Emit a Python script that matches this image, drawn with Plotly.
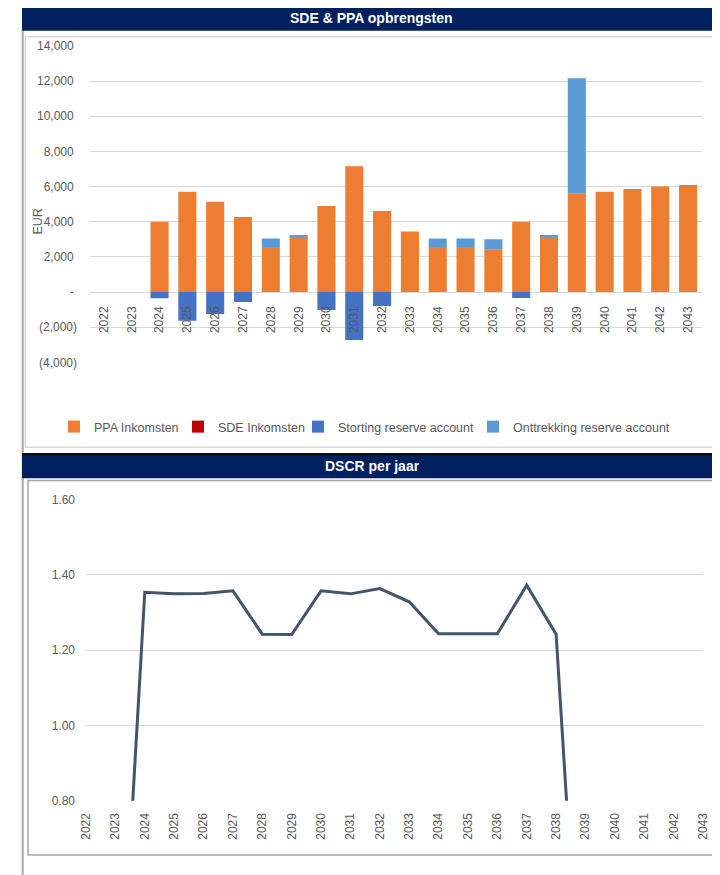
import plotly.graph_objects as go

# ---------------- data ----------------
years = ["2022", "2023", "2024", "2025", "2026", "2027", "2028", "2029", "2030", "2031", "2032",
         "2033", "2034", "2035", "2036", "2037", "2038", "2039", "2040", "2041", "2042", "2043"]
ppa_inkomsten = [0, 0, 4000, 5710, 5140, 4270, 2560, 3150, 4895, 7150, 4610,
                 3450, 2560, 2560, 2410, 4000, 3150, 5620, 5710, 5860, 6000, 6090]
sde_inkomsten = [0, 0, 0, 0, 0, 0, 0, 0, 0, 0, 0,
                 0, 0, 0, 0, 0, 0, 0, 0, 0, 0, 0]
storting_reserve = [0, 0, -360, -1630, -1250, -570, 0, 0, -1020, -2730, -800,
                    0, 0, 0, 0, -340, 0, 0, 0, 0, 0, 0]
onttrekking_reserve = [0, 0, 0, 0, 0, 0, 490, 80, 0, 0, 0,
                       0, 490, 490, 590, 0, 80, 6540, 0, 0, 0, 0]
dscr = [0, 0, 1.353, 1.349, 1.350, 1.357, 1.242, 1.241, 1.357, 1.349, 1.363,
        1.328, 1.243, 1.243, 1.243, 1.372, 1.242, 0, 0, 0, 0, 0]

eur_tickvals = [14000, 12000, 10000, 8000, 6000, 4000, 2000, 0, -2000, -4000]
eur_ticktext = ["14,000\u2008", "12,000\u2008", "10,000\u2008", "8,000\u2008", "6,000\u2008",
                "4,000\u2008", "2,000\u2008", "-\u2008", "(2,000)", "(4,000)"]
dscr_tickvals = [1.6, 1.4, 1.2, 1.0, 0.8]

# ---------------- geometry helpers ----------------
# the page body has an 8px margin, so the figure sits 8px right/down in the window
W, H = 720, 875
OFF = 8


def px(x):
    return (x - OFF) / W


def py(y):
    return 1 - (y - OFF) / H


FONT = "Liberation Sans, Arial, sans-serif"
GREY_TXT = "#595959"
GRID = "#D9D9D9"
NAVY = "#002060"

fig = go.Figure()

fig.add_trace(go.Bar(x=years, y=ppa_inkomsten, name="PPA Inkomsten", legendwidth=79,
                     marker=dict(color="#ED7D31", line=dict(width=0)), xaxis="x", yaxis="y"))
fig.add_trace(go.Bar(x=years, y=sde_inkomsten, name="SDE Inkomsten", legendwidth=75,
                     marker=dict(color="#C00000", line=dict(width=0)), xaxis="x", yaxis="y"))
fig.add_trace(go.Bar(x=years, y=storting_reserve, name="Storting reserve account", legendwidth=130,
                     marker=dict(color="#4472C4", line=dict(width=0)), xaxis="x", yaxis="y"))
fig.add_trace(go.Bar(x=years, y=onttrekking_reserve, name="Onttrekking reserve account",
                     legendwidth=160,
                     marker=dict(color="#5B9BD5", line=dict(width=0)), xaxis="x", yaxis="y"))

fig.add_trace(go.Scatter(x=years, y=dscr, mode="lines", name="DSCR",
                         line=dict(color="#44546A", width=3), showlegend=False,
                         xaxis="x2", yaxis="y2"))

tickfont = dict(family=FONT, size=12, color=GREY_TXT)

fig.update_layout(
    template="plotly",
    width=W, height=H,
    margin=dict(l=0, r=0, t=0, b=0, pad=0, autoexpand=False),
    paper_bgcolor="white", plot_bgcolor="rgba(0,0,0,0)",
    barmode="relative", bargap=0.35,
    font=dict(family=FONT, color=GREY_TXT),
    xaxis=dict(domain=[px(90), px(702)], anchor="free", position=py(292),
               type="category", tickangle=-90, ticks="", showgrid=False, automargin=False,
               showline=False, zeroline=False, tickfont=tickfont, ticklabelstandoff=11),
    yaxis=dict(domain=[py(362.3), py(46)], anchor="x", range=[-4000, 14000],
               tickvals=eur_tickvals, ticktext=eur_ticktext, showgrid=True, automargin=False,
               gridcolor=GRID, gridwidth=1, zeroline=False, showline=False,
               ticks="", tickfont=tickfont, ticklabelstandoff=12),
    xaxis2=dict(domain=[px(86), px(703)], anchor="y2", type="category", automargin=False,
                tickangle=-90, ticks="", showgrid=False, showline=False,
                zeroline=False, tickfont=tickfont, ticklabelstandoff=9),
    yaxis2=dict(domain=[py(800.7), py(499.3)], anchor="x2", range=[0.8, 1.6], automargin=False,
                tickvals=dscr_tickvals, tickformat=".2f", showgrid=True,
                gridcolor=GRID, gridwidth=1, zeroline=False, showline=False,
                ticks="", tickfont=tickfont, ticklabelstandoff=10),
    showlegend=True,
    legend=dict(orientation="h", x=px(54), xanchor="left", y=py(427), yanchor="middle",
                font=dict(family=FONT, size=12.5, color=GREY_TXT), bgcolor="rgba(0,0,0,0)",
                itemwidth=30, traceorder="normal"),
)

shapes = []
# page left line
shapes.append(dict(type="line", xref="paper", yref="paper", x0=px(22.7), x1=px(22.7),
                   y0=py(30), y1=py(876), line=dict(color="#A6A6A6", width=2)))
# top chart box
shapes.append(dict(type="rect", xref="paper", yref="paper", x0=px(25.3), x1=px(718.3),
                   y0=py(447.3), y1=py(36.7), line=dict(color="#D9D9D9", width=1.5),
                   layer="below"))
# bottom chart box
shapes.append(dict(type="rect", xref="paper", yref="paper", x0=px(28), x1=px(725),
                   y0=py(855), y1=py(480.5), line=dict(color="#A6A6A6", width=1.5),
                   layer="below"))
# title bars
shapes.append(dict(type="rect", xref="paper", yref="paper", x0=px(22), x1=px(725),
                   y0=py(30.7), y1=py(5.5), fillcolor=NAVY, line=dict(width=0)))
shapes.append(dict(type="line", xref="paper", yref="paper", x0=px(22), x1=px(725),
                   y0=py(5.7), y1=py(5.7), line=dict(color="#000000", width=1)))
shapes.append(dict(type="rect", xref="paper", yref="paper", x0=px(22), x1=px(725),
                   y0=py(478.3), y1=py(453.3), fillcolor=NAVY, line=dict(width=0)))
shapes.append(dict(type="line", xref="paper", yref="paper", x0=px(22), x1=px(725),
                   y0=py(454.2), y1=py(454.2), line=dict(color="#000000", width=2)))
fig.update_layout(shapes=shapes)

annotations = [
    dict(text="<b>SDE &amp; PPA opbrengsten</b>", x=px(371), y=py(18), xref="paper", yref="paper",
         showarrow=False, xanchor="center", yanchor="middle",
         font=dict(family=FONT, size=14, color="white")),
    dict(text="<b>DSCR per jaar</b>", x=px(372), y=py(466), xref="paper", yref="paper",
         showarrow=False, xanchor="center", yanchor="middle",
         font=dict(family=FONT, size=14, color="white")),
    dict(text="EUR", x=px(37.5), y=py(222), xref="paper", yref="paper", showarrow=False,
         textangle=-90, xanchor="center", yanchor="middle",
         font=dict(family=FONT, size=12.5, color=GREY_TXT)),
]
fig.update_layout(annotations=annotations)

fig.write_html("out.html")
